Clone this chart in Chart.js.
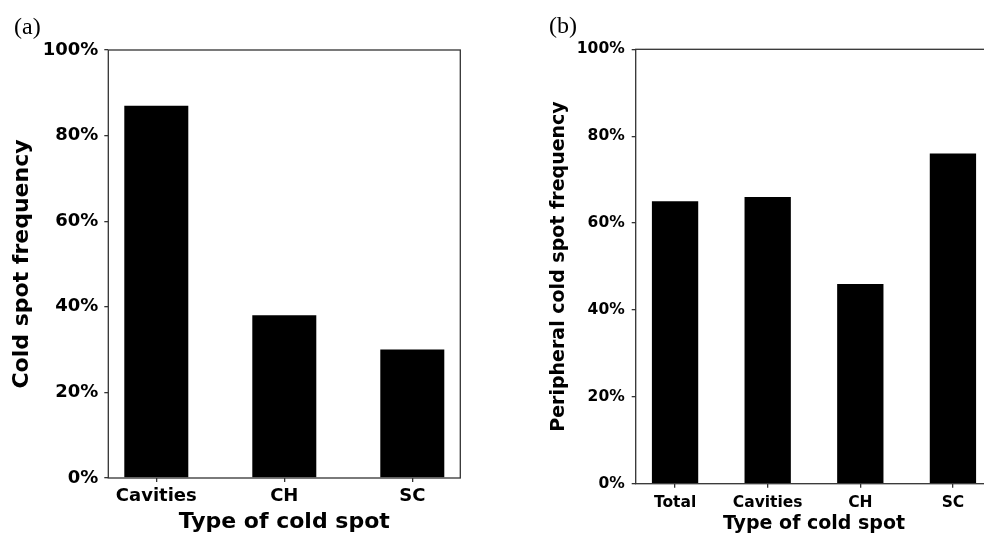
<!DOCTYPE html>
<html>
<head>
<meta charset="utf-8">
<script src="https://cdn.jsdelivr.net/npm/chart.js@4/dist/chart.umd.min.js"></script>
<style>
  html, body { margin: 0; padding: 0; background: #fff; overflow: hidden; width: 984px; height: 535px; }
  .clip { position: absolute; top: 0; height: 535px; overflow: hidden; }
  #clipA { left: 0; width: 480px; }
  #clipB { left: 540px; width: 444px; }
  .panel { position: absolute; left: 0; top: 0; height: 535px; }
  #wrapA { width: 480px; }
  #wrapB { width: 460px; }
</style>
</head>
<body>
<div class="clip" id="clipA"><div class="panel" id="wrapA"><canvas id="chartA"></canvas></div></div>
<div class="clip" id="clipB"><div class="panel" id="wrapB"><canvas id="chartB"></canvas></div></div>
<script>
// (a) share of cold spots by type
var typesA = ["Cavities", "CH", "SC"];
var freqA = [87, 38, 30];

// (b) share of cold spots that are peripheral
var typesB = ["Total", "Cavities", "CH", "SC"];
var freqB = [65, 66, 46, 76];

var pctTicks = [0, 20, 40, 60, 80, 100];
var axisTitleX = "Type of cold spot";
var axisTitleA = "Cold spot frequency";
var axisTitleB = "Peripheral cold spot frequency";

var spine = '#333333';

// draws the four spines and the panel letter
var framePlugin = {
  id: 'frame',
  afterDraw: function (chart, args, opts) {
    var a = chart.chartArea, ctx = chart.ctx;
    ctx.save();
    ctx.strokeStyle = spine;
    ctx.lineWidth = 1.3;
    ctx.strokeRect(a.left, a.top, a.right - a.left, a.bottom - a.top);
    ctx.fillStyle = '#000';
    ctx.font = '24px "Liberation Serif", serif';
    ctx.textBaseline = 'alphabetic';
    ctx.textAlign = 'left';
    ctx.fillText(opts.tag, opts.x, opts.y);
    ctx.restore();
  }
};

function makePanel(id, cats, vals, yTitle, s) {
  // matplotlib style x limits: bars of width 0.5 plus 5% margin
  var pad = 0.25 + 0.05 * (cats.length - 0.5);
  return new Chart(document.getElementById(id), {
    type: 'bar',
    data: {
      datasets: [{
        data: vals.map(function (v, i) { return { x: i, y: v }; }),
        backgroundColor: '#000',
        borderWidth: 0,
        barPercentage: 0.5,
        categoryPercentage: 1
      }]
    },
    options: {
      responsive: true,
      maintainAspectRatio: false,
      animation: false,
      events: [],
      layout: { padding: { top: s.top, right: s.right, left: 0, bottom: 0 } },
      plugins: {
        legend: { display: false },
        tooltip: { enabled: false },
        frame: { tag: s.tag, x: s.tagX, y: s.tagY }
      },
      scales: {
        x: {
          type: 'linear',
          offset: false,
          min: -pad,
          max: cats.length - 1 + pad,
          afterBuildTicks: function (sc) {
            sc.ticks = cats.map(function (c, i) { return { value: i }; });
          },
          afterFit: function (sc) { sc.height = s.xH; },
          border: { display: false },
          grid: { offset: false, drawOnChartArea: false, drawTicks: true, tickLength: 4, color: spine, lineWidth: 1.3 },
          ticks: {
            padding: s.xPad,
            maxRotation: 0,
            autoSkip: false,
            color: '#000',
            font: { family: 'DejaVu Sans', weight: 'bold', size: s.tick },
            callback: function (v) { return cats[v]; }
          },
          title: {
            display: true,
            text: axisTitleX,
            color: '#000',
            padding: { top: 0, bottom: 0 },
            font: { family: 'DejaVu Sans', weight: 'bold', size: s.title }
          }
        },
        y: {
          min: 0,
          max: 100,
          afterBuildTicks: function (sc) {
            sc.ticks = pctTicks.map(function (v) { return { value: v }; });
          },
          afterFit: function (sc) { sc.width = s.yW; },
          border: { display: false },
          grid: { drawOnChartArea: false, drawTicks: true, tickLength: 4, color: spine, lineWidth: 1.3 },
          ticks: {
            padding: s.yPad,
            color: '#000',
            font: { family: 'DejaVu Sans', weight: 'bold', size: s.tick },
            callback: function (v) { return v + '%'; }
          },
          title: {
            display: true,
            text: yTitle,
            color: '#000',
            padding: { top: s.yTitlePad, bottom: 0 },
            font: { family: 'DejaVu Sans', weight: 'bold', size: s.title }
          }
        }
      }
    },
    plugins: [framePlugin]
  });
}

makePanel('chartA', typesA, freqA, axisTitleA, {
  top: 50, right: 19.7, yW: 108.3, xH: 57,
  tick: 18, title: 22, xPad: 4, yPad: 6, yTitlePad: 9,
  tag: '(a)', tagX: 14, tagY: 34
});

makePanel('chartB', typesB, freqB, axisTitleB, {
  top: 49.3, right: 7.7, yW: 95.7, xH: 51.3,
  tick: 15.5, title: 19, xPad: 6, yPad: 7, yTitlePad: 7.6,
  tag: '(b)', tagX: 9, tagY: 33
});
</script>
</body>
</html>
